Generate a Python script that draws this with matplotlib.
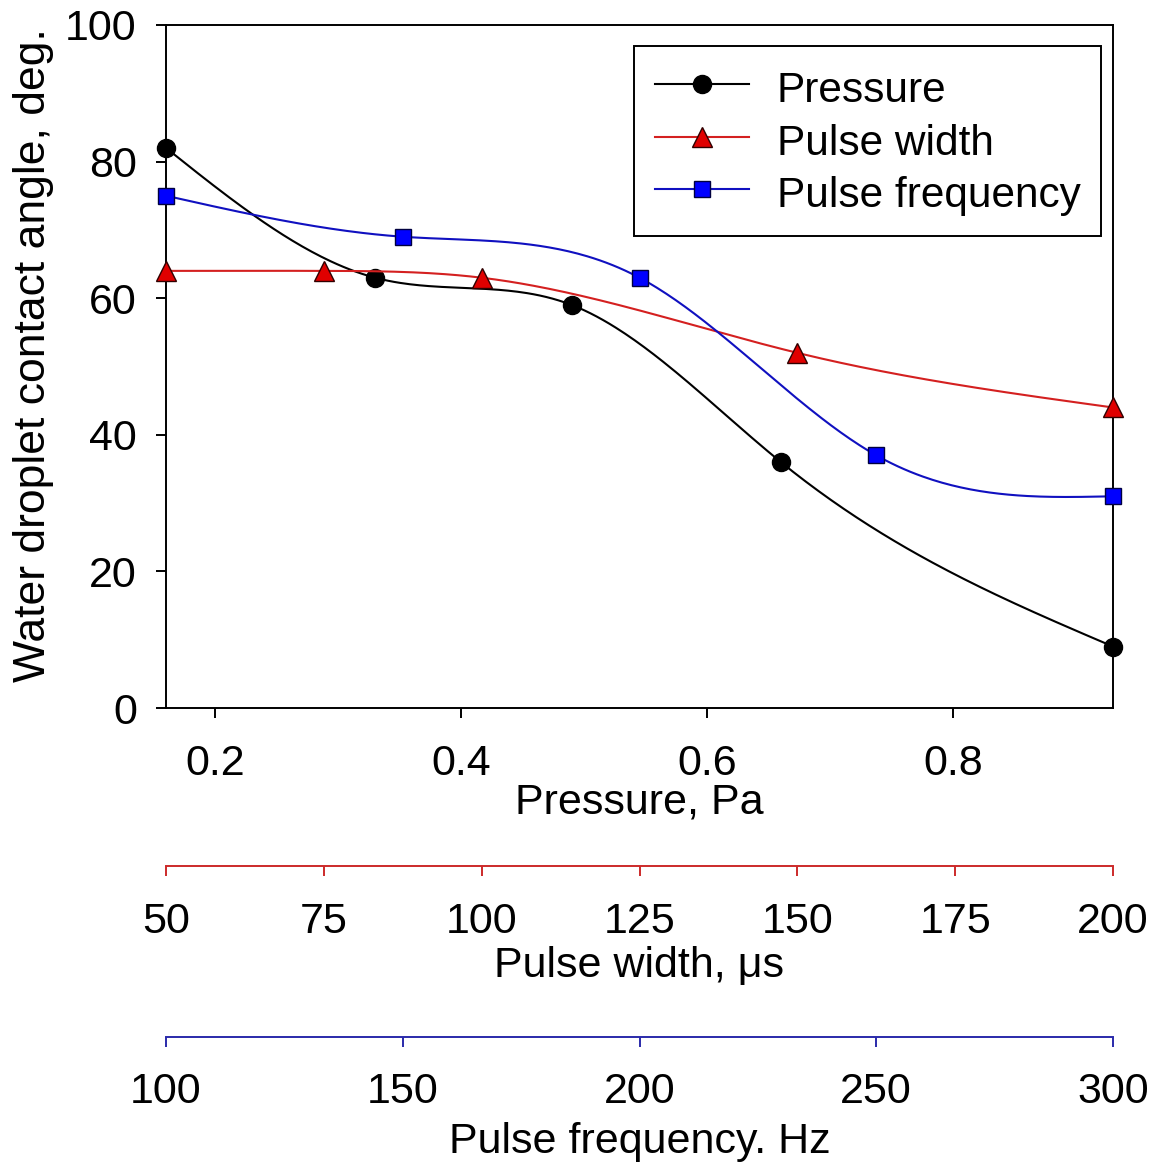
import numpy as np
import matplotlib
matplotlib.use("Agg")
import matplotlib.pyplot as plt
from matplotlib.lines import Line2D

plt.rcParams['font.family'] = ['Liberation Sans', 'DejaVu Sans']

# ---- data ----
pressure = [0.16, 0.33, 0.49, 0.66, 0.93]
angle_pressure = [82, 63, 59, 36, 9]

pulse_width = [50, 75, 100, 150, 200]
angle_width = [64, 64, 63, 52, 44]

pulse_freq = [100, 150, 200, 250, 300]
angle_freq = [75, 69, 63, 37, 31]

pressure_ticks = [0.2, 0.4, 0.6, 0.8]
width_ticks = [50, 75, 100, 125, 150, 175, 200]
freq_ticks = [100, 150, 200, 250, 300]
y_ticks = [0, 20, 40, 60, 80, 100]

RED_AX = '#cc2a2a'
BLUE_AX = '#2a2aaa'
RED_LINE = '#d42020'
BLUE_LINE = '#1010c0'


def smooth(x, y, n=300):
    """Natural cubic spline through the data points (for drawing the line)."""
    x = np.asarray(x, float)
    y = np.asarray(y, float)
    nn = len(x)
    h = np.diff(x)
    A = np.zeros((nn, nn))
    r = np.zeros(nn)
    A[0, 0] = 1
    A[-1, -1] = 1
    for i in range(1, nn - 1):
        A[i, i - 1] = h[i - 1]
        A[i, i] = 2 * (h[i - 1] + h[i])
        A[i, i + 1] = h[i]
        r[i] = 6 * ((y[i + 1] - y[i]) / h[i] - (y[i] - y[i - 1]) / h[i - 1])
    M = np.linalg.solve(A, r)
    xs = np.linspace(x[0], x[-1], n)
    idx = np.clip(np.searchsorted(x, xs) - 1, 0, nn - 2)
    x0 = x[idx]
    x1 = x[idx + 1]
    hh = x1 - x0
    t0 = xs - x0
    t1 = x1 - xs
    ys = (M[idx] * t1 ** 3 / (6 * hh) + M[idx + 1] * t0 ** 3 / (6 * hh)
          + (y[idx] / hh - M[idx] * hh / 6) * t1
          + (y[idx + 1] / hh - M[idx + 1] * hh / 6) * t0)
    return xs, ys


W, H = 1160, 1168
fig = plt.figure(figsize=(W / 100, H / 100), dpi=100)
L, R, T, B = 166, 1113, 25, 708
ax = fig.add_axes([L / W, 1 - B / H, (R - L) / W, (B - T) / H])

FS = 31
LW = 1.4
DLW = 1.5
MS_C, MS_T, MS_S = 13, 14, 11

# main axis (pressure)
ax.set_xlim(0.16, 0.93)
ax.set_ylim(0, 100)
ax.set_xticks(pressure_ticks)
ax.set_xticklabels([f"{v:.1f}" for v in pressure_ticks])
ax.set_yticks(y_ticks)
ax.tick_params(axis='both', direction='out', length=7, width=LW, labelsize=FS)
ax.tick_params(axis='x', pad=19)
ax.tick_params(axis='y', pad=14)
for s in ax.spines.values():
    s.set_linewidth(LW)
ax.set_xlabel("Pressure, Pa", fontsize=FS, labelpad=-1)
ax.set_ylabel("Water droplet contact angle, deg.", fontsize=32, labelpad=8, y=0.517)

xs, ys = smooth(pressure, angle_pressure)
ax.plot(xs, ys, color='black', lw=DLW, zorder=3)
ax.plot(pressure, angle_pressure, linestyle='none', marker='o', ms=MS_C,
        mfc='black', mec='black', clip_on=False, zorder=5)

# pulse width axis
ax2 = ax.twiny()
ax2.set_xlim(50, 200)
ax2.xaxis.set_ticks_position('bottom')
ax2.xaxis.set_label_position('bottom')
ax2.spines['bottom'].set_position(('axes', -158 / (B - T)))
for k in ['top', 'left', 'right']:
    ax2.spines[k].set_visible(False)
ax2.spines['bottom'].set_color(RED_AX)
ax2.spines['bottom'].set_linewidth(LW)
ax2.set_xticks(width_ticks)
ax2.tick_params(axis='x', direction='out', length=7, width=LW, colors=RED_AX,
                labelcolor='black', labelsize=FS, pad=19)
ax2.set_xlabel("Pulse width, \u03bcs", fontsize=FS, labelpad=3)

xs, ys = smooth(pulse_width, angle_width)
ax2.plot(xs, ys, color=RED_LINE, lw=DLW, zorder=3)
ax2.plot(pulse_width, angle_width, linestyle='none', marker='^', ms=MS_T,
         mfc='#e00000', mec='#300000', mew=1.0, clip_on=False, zorder=5)

# pulse frequency axis
ax3 = ax.twiny()
ax3.set_xlim(100, 300)
ax3.xaxis.set_ticks_position('bottom')
ax3.xaxis.set_label_position('bottom')
ax3.spines['bottom'].set_position(('axes', -329 / (B - T)))
for k in ['top', 'left', 'right']:
    ax3.spines[k].set_visible(False)
ax3.spines['bottom'].set_color(BLUE_AX)
ax3.spines['bottom'].set_linewidth(LW)
ax3.set_xticks(freq_ticks)
ax3.tick_params(axis='x', direction='out', length=7, width=LW, colors=BLUE_AX,
                labelcolor='black', labelsize=FS, pad=18.5)
ax3.set_xlabel("Pulse frequency. Hz", fontsize=FS, labelpad=7)

xs, ys = smooth(pulse_freq, angle_freq)
ax3.plot(xs, ys, color=BLUE_LINE, lw=DLW, zorder=3)
ax3.plot(pulse_freq, angle_freq, linestyle='none', marker='s', ms=MS_S,
         mfc='#0000ff', mec='#000040', mew=1.0, clip_on=False, zorder=5)

handles = [
    Line2D([], [], color='black', lw=DLW, marker='o', ms=MS_C, mfc='black', mec='black'),
    Line2D([], [], color=RED_LINE, lw=DLW, marker='^', ms=MS_T, mfc='#e00000', mec='#300000'),
    Line2D([], [], color=BLUE_LINE, lw=DLW, marker='s', ms=MS_S, mfc='#0000ff', mec='#000040'),
]
leg = ax3.legend(handles, ["Pressure", "Pulse width", "Pulse frequency"],
                 loc='upper right', bbox_to_anchor=(1101 / W, 1 - 46 / H),
                 bbox_transform=fig.transFigure, borderaxespad=0,
                 fontsize=30.5, frameon=True, fancybox=False, shadow=False,
                 handlelength=2.22, handletextpad=0.66, borderpad=0.48,
                 handleheight=1.2, labelspacing=0.17, numpoints=1)
leg.get_frame().set_edgecolor('black')
leg.get_frame().set_linewidth(LW)
leg.get_frame().set_alpha(1)

fig.savefig("out.png", dpi=100)
